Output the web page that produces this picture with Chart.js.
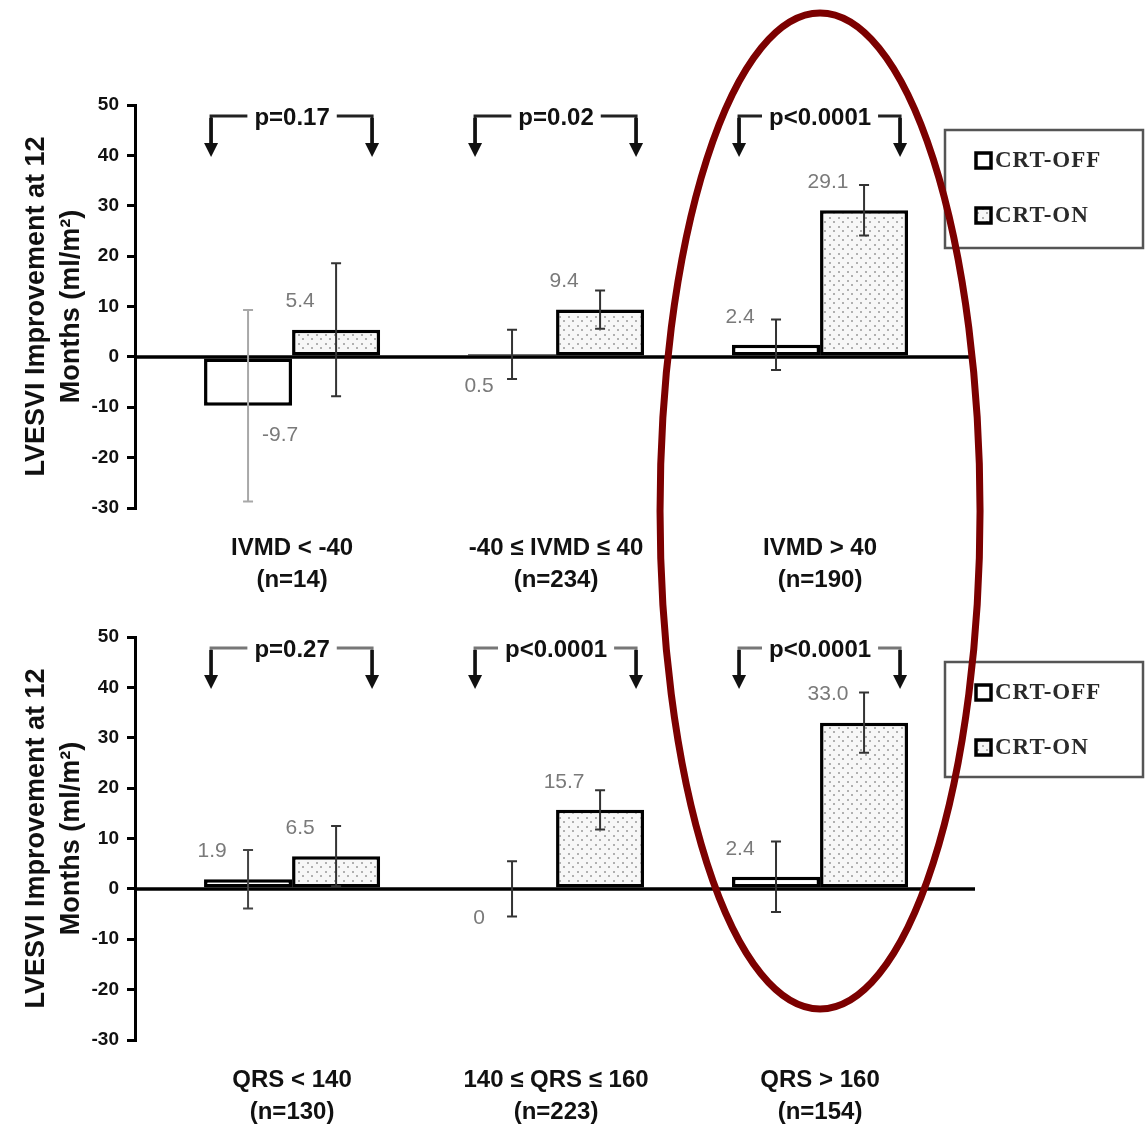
<!DOCTYPE html>
<html><head><meta charset="utf-8">
<script src="https://cdn.jsdelivr.net/npm/chart.js@4.4.1/dist/chart.umd.min.js"></script>
<style>
html,body{margin:0;padding:0;background:#fff;width:1145px;height:1133px;overflow:hidden;}
#c1{position:absolute;left:0;top:0;}
#c2{position:absolute;left:0;top:600px;}
#ov{position:absolute;left:0;top:0;pointer-events:none;}
</style></head><body>
<canvas id="c1" width="1145" height="600"></canvas>
<canvas id="c2" width="1145" height="533"></canvas>
<canvas id="ov" width="1145" height="1133"></canvas>
<script>
// ---------- data ----------
const seriesNames = ['CRT-OFF', 'CRT-ON'];

const ivmdCategories = [['IVMD < -40', '(n=14)'], ['-40 ≤ IVMD ≤ 40', '(n=234)'], ['IVMD > 40', '(n=190)']];
const ivmdOff = [-9.7, 0.5, 2.4];
const ivmdOn = [5.4, 9.4, 29.1];
const ivmdOffErr = [19.0, 4.9, 5.0];
const ivmdOnErr = [13.2, 3.8, 5.0];
const ivmdPValues = ['p=0.17', 'p=0.02', 'p<0.0001'];

const qrsCategories = [['QRS < 140', '(n=130)'], ['140 ≤ QRS ≤ 160', '(n=223)'], ['QRS > 160', '(n=154)']];
const qrsOff = [1.9, 0, 2.4];
const qrsOn = [6.5, 15.7, 33.0];
const qrsOffErr = [5.8, 5.5, 7.0];
const qrsOnErr = [6.0, 3.9, 6.0];
const qrsPValues = ['p=0.27', 'p<0.0001', 'p<0.0001'];

const yTicks = [50, 40, 30, 20, 10, 0, -10, -20, -30];
const yTitle = ['LVESVI Improvement at 12', 'Months (ml/m²)'];

// ---------- styles ----------
const SANS = "'Liberation Sans', Arial, sans-serif";
const NARROW = "'Liberation Sans Narrow', 'DejaVu Sans Condensed', 'Liberation Sans', sans-serif";
const SERIF = "'Liberation Serif', 'DejaVu Serif', serif";

function makeDots() {
  const c = document.createElement('canvas');
  c.width = 9; c.height = 9;
  const g = c.getContext('2d');
  g.fillStyle = '#f7f7f7'; g.fillRect(0, 0, 9, 9);
  g.fillStyle = '#b0b0b0';
  g.fillRect(1, 1, 2, 2); g.fillRect(5, 5, 2, 2);
  return g.createPattern(c, 'repeat');
}
const dots = makeDots();

const annotPlugin = {
  id: 'annot',
  afterDatasetsDraw(chart, args, opts) {
    const ctx = chart.ctx, y = chart.scales.y, area = chart.chartArea;
    const m0 = chart.getDatasetMeta(0), m1 = chart.getDatasetMeta(1);
    ctx.save();
    // zero line
    const y0 = y.getPixelForValue(0);
    ctx.strokeStyle = '#000'; ctx.lineWidth = 3.5;
    ctx.beginPath(); ctx.moveTo(area.left, y0); ctx.lineTo(area.right, y0); ctx.stroke();

    // error bars + value labels
    chart.data.datasets.forEach((ds, di) => {
      const meta = chart.getDatasetMeta(di);
      meta.data.forEach((el, i) => {
        const v = ds.data[i].y, e = ds.errors[i];
        const top = y.getPixelForValue(v + e), bot = y.getPixelForValue(v - e);
        ctx.strokeStyle = opts.errColors[di][i];
        ctx.lineWidth = 2;
        ctx.beginPath();
        ctx.moveTo(el.x, top); ctx.lineTo(el.x, bot);
        ctx.moveTo(el.x - 5, top); ctx.lineTo(el.x + 5, top);
        ctx.moveTo(el.x - 5, bot); ctx.lineTo(el.x + 5, bot);
        ctx.stroke();
        // value label
        ctx.fillStyle = '#7a7a7a';
        ctx.font = "21px " + SANS;
        ctx.textAlign = 'center'; ctx.textBaseline = 'middle';
        let lx, ly;
        if (v >= 1) { lx = el.x - 36; ly = y.getPixelForValue(v) - 28; }
        else if (v >= 0) { lx = el.x - 33; ly = y.getPixelForValue(0) + 29; }
        else { lx = el.x + 32; ly = y.getPixelForValue(v) + 29; }
        ctx.fillText(v.toFixed(v === 0 ? 0 : 1), lx, ly);
      });
    });

    // p-value brackets
    const by = area.top + 11, tip = area.top + 52;
    ctx.font = "bold 24px " + SANS;
    ctx.textAlign = 'center'; ctx.textBaseline = 'middle';
    opts.pvals.forEach((p, i) => {
      const cx = (m0.data[i].x + m1.data[i].x) / 2;
      const xl = cx - 81, xr = cx + 80;
      const tw = ctx.measureText(p).width;
      ctx.strokeStyle = opts.bracketColor; ctx.lineWidth = 3;
      ctx.beginPath();
      ctx.moveTo(xl, tip - 12); ctx.lineTo(xl, by); ctx.lineTo(cx - tw / 2 - 7, by);
      ctx.moveTo(cx + tw / 2 + 7, by); ctx.lineTo(xr, by); ctx.lineTo(xr, tip - 12);
      ctx.stroke();
      ctx.strokeStyle = '#111'; ctx.lineWidth = 3.5;
      ctx.beginPath();
      ctx.moveTo(xl, by + 2); ctx.lineTo(xl, tip - 12);
      ctx.moveTo(xr, by + 2); ctx.lineTo(xr, tip - 12);
      ctx.stroke();
      ctx.fillStyle = '#111';
      [xl, xr].forEach(ax => {
        ctx.beginPath();
        ctx.moveTo(ax - 7, tip - 14); ctx.lineTo(ax + 7, tip - 14); ctx.lineTo(ax, tip);
        ctx.closePath(); ctx.fill();
      });
      ctx.fillText(p, cx, by + 2);
    });

    // legend box
    const lx = area.right - 30, ly = area.top + 25, lw = 198, lh = opts.legendH;
    ctx.strokeStyle = '#555'; ctx.lineWidth = 2.5;
    ctx.strokeRect(lx, ly, lw, lh);
    ctx.font = "bold 23px " + SERIF;
    ctx.textAlign = 'left'; ctx.textBaseline = 'middle';
    try { ctx.letterSpacing = '1px'; } catch (e) {}
    chart.data.datasets.forEach((ds, di) => {
      const iy = ly + 31 + di * 55;
      ctx.fillStyle = di === 0 ? '#fff' : dots;
      ctx.fillRect(lx + 31, iy - 8, 15, 15);
      ctx.strokeStyle = '#000'; ctx.lineWidth = 3.5;
      ctx.strokeRect(lx + 31, iy - 8, 15, 15);
      ctx.fillStyle = '#2a2a2a';
      ctx.fillText(ds.label, lx + 50, iy);
    });
    ctx.restore();
  }
};

function makeChart(id, cats, off, on, offErr, onErr, pvals, topPad, xH, errColors, bracketColor, legendH) {
  return new Chart(document.getElementById(id), {
    type: 'bar',
    data: {
      datasets: [
        { label: seriesNames[0], data: off.map((v, i) => ({ x: i + 1, y: v })), errors: offErr,
          backgroundColor: '#fff', borderColor: '#000', borderWidth: 3.5, borderSkipped: false,
          categoryPercentage: 0.667, barPercentage: 1.0 },
        { label: seriesNames[1], data: on.map((v, i) => ({ x: i + 1, y: v })), errors: onErr,
          backgroundColor: dots, borderColor: '#000', borderWidth: 3.5, borderSkipped: false,
          categoryPercentage: 0.667, barPercentage: 1.0 }
      ]
    },
    options: {
      responsive: false, animation: false, devicePixelRatio: 1,
      layout: { padding: { left: 0, top: topPad, right: 170, bottom: 0 } },
      plugins: {
        legend: { display: false }, tooltip: { enabled: false },
        annot: { pvals: pvals, errColors: errColors, bracketColor: bracketColor, legendH: legendH }
      },
      scales: {
        x: {
          type: 'linear', min: 0.405, max: 3.587, offset: false,
          afterBuildTicks: s => { s.ticks = cats.map((c, i) => ({ value: i + 1 })); },
          ticks: { callback: v => cats[Math.round(v) - 1], font: { family: SANS, size: 24, weight: 'bold', lineHeight: 1.33 },
                   color: '#111', padding: 24, maxRotation: 0, autoSkip: false },
          grid: { display: false, drawTicks: false }, border: { display: false },
          afterFit: s => { s.height = xH; }
        },
        y: {
          min: -30, max: 50,
          afterBuildTicks: s => { s.ticks = yTicks.map(v => ({ value: v })); },
          ticks: { font: { family: SANS, size: 19, weight: 'bold' }, color: '#111', padding: 8 },
          grid: { drawOnChartArea: false, drawTicks: true, tickLength: 8, color: '#000', lineWidth: 3 },
          border: { display: true, color: '#000', width: 3 },
          title: { display: true, text: yTitle, color: '#111',
                   font: { family: SANS, size: 27, weight: 'bold', lineHeight: 1.3 }, padding: { top: 19, bottom: 0 } },
          afterFit: s => { s.width = 135; }
        }
      }
    },
    plugins: [annotPlugin]
  });
}

const c1 = makeChart('c1', ivmdCategories, ivmdOff, ivmdOn, ivmdOffErr, ivmdOnErr, ivmdPValues, 105, 92,
  [['#a8a8a8', '#333', '#333'], ['#333', '#333', '#333']], '#222', 118);
const c2 = makeChart('c2', qrsCategories, qrsOff, qrsOn, qrsOffErr, qrsOnErr, qrsPValues, 37, 93,
  [['#444', '#333', '#333'], ['#333', '#333', '#333']], '#777', 115);

// highlight ellipse around the third group
const ov = document.getElementById('ov').getContext('2d');
const ecx = c1.scales.x.getPixelForValue(3);
ov.strokeStyle = '#7c0000'; ov.lineWidth = 7;
ov.beginPath();
ov.ellipse(ecx, 511, 160, 498, 0, 0, Math.PI * 2);
ov.stroke();
</script>
</body></html>
